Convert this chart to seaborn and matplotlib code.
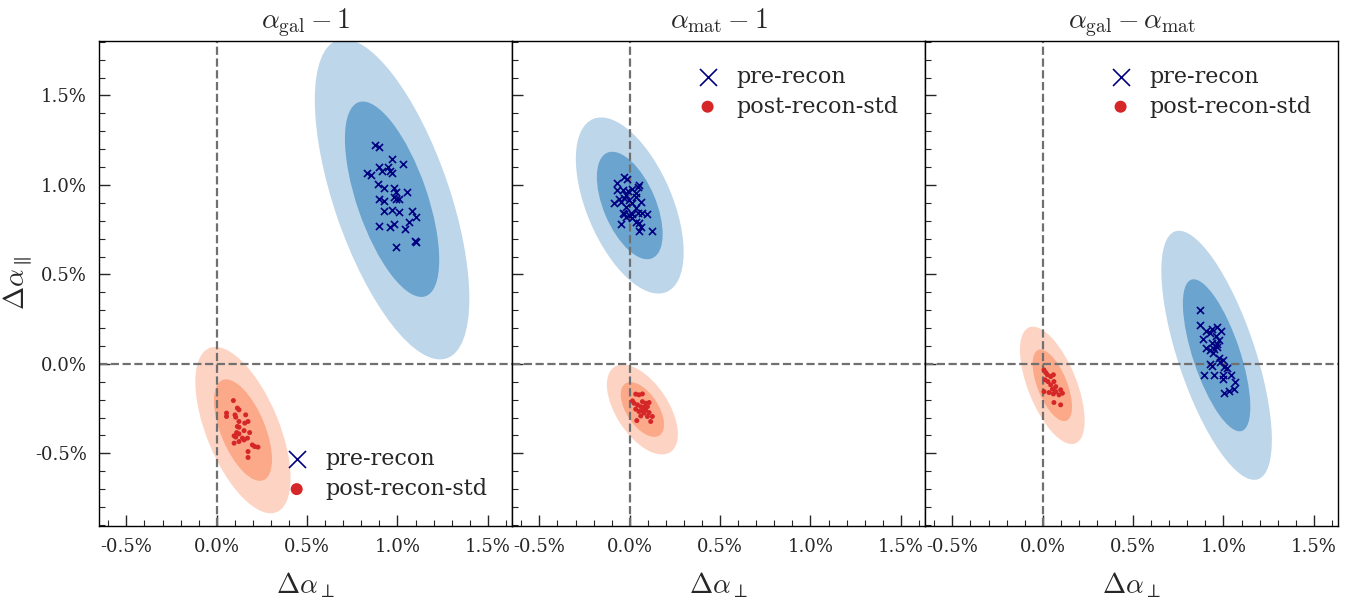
import matplotlib
matplotlib.use('Agg')
import matplotlib.pyplot as plt
import seaborn as sns
import numpy as np
import pandas as pd
from matplotlib.patches import Ellipse
from matplotlib.ticker import MultipleLocator, FormatStrFormatter

sns.set_style('ticks')
plt.rcParams['font.family'] = ['DejaVu Serif']
plt.rcParams['mathtext.fontset'] = 'cm'

titles = [r'$\alpha_{\rm gal}-1$', r'$\alpha_{\rm mat}-1$', r'$\alpha_{\rm gal}-\alpha_{\rm mat}$']

# pre-recon points (Delta alpha_perp, Delta alpha_par) in percent
pre_x_gal = [0.878, 0.895, 0.967, 0.950, 0.895, 0.917, 1.028, 0.961, 0.967, 0.834, 0.851, 0.890,
             0.923, 0.983, 1.055, 0.989, 0.895, 0.923, 0.994, 1.006, 0.983, 0.972, 0.923, 1.006,
             1.083, 1.105, 1.061, 0.895, 0.961, 0.983, 1.044, 1.099, 1.105, 0.994]
pre_y_gal = [1.223, 1.212, 1.145, 1.101, 1.101, 1.078, 1.117, 1.078, 1.067, 1.067, 1.056, 1.006,
             0.983, 0.983, 0.961, 0.961, 0.922, 0.911, 0.922, 0.922, 0.933, 0.860, 0.855, 0.849,
             0.855, 0.821, 0.793, 0.771, 0.765, 0.782, 0.754, 0.687, 0.682, 0.654]
pre_x_mat = [-0.068, -0.031, -0.017, -0.068, -0.040, -0.009, 0.015, 0.043, 0.051, -0.022, 0.033, -0.059,
             -0.031, -0.004, 0.033, -0.087, -0.050, 0.015, 0.061, -0.022, 0.033, -0.040, -0.031, -0.004,
             0.015, 0.043, 0.070, 0.094, -0.022, 0.015, 0.033, 0.051, -0.050, 0.061, 0.051, 0.122]
pre_y_mat = [1.013, 1.046, 1.032, 0.972, 0.972, 0.968, 0.976, 0.991, 1.000, 0.944, 0.954, 0.920,
             0.926, 0.916, 0.931, 0.898, 0.907, 0.901, 0.907, 0.879, 0.870, 0.845, 0.838, 0.832,
             0.838, 0.842, 0.845, 0.838, 0.823, 0.814, 0.795, 0.786, 0.780, 0.767, 0.743, 0.743]
pre_x_diff = [0.869, 0.869, 0.901, 0.938, 0.965, 0.987, 0.886, 0.924, 0.956, 0.974, 0.938, 0.965,
              0.906, 0.924, 0.946, 0.965, 0.943, 0.974, 0.998, 0.983, 0.928, 0.938, 1.002, 1.020,
              0.891, 0.946, 0.998, 1.039, 0.998, 1.066, 1.057, 1.029, 1.002]
pre_y_diff = [0.302, 0.218, 0.186, 0.194, 0.208, 0.186, 0.138, 0.172, 0.153, 0.134, 0.119, 0.112,
              0.088, 0.078, 0.082, 0.097, 0.060, 0.032, 0.022, 0.013, 0.000, -0.011, -0.015, -0.024,
              -0.061, -0.061, -0.061, -0.061, -0.085, -0.104, -0.141, -0.149, -0.160]

# post-recon-std points
post_x_gal = [0.092, 0.114, 0.123, 0.054, 0.054, 0.101, 0.105, 0.160, 0.123, 0.173, 0.155, 0.114,
              0.123, 0.151, 0.182, 0.110, 0.123, 0.096, 0.105, 0.142, 0.151, 0.170, 0.123, 0.096,
              0.197, 0.210, 0.228, 0.173, 0.173]
post_y_gal = [-0.205, -0.247, -0.257, -0.275, -0.294, -0.285, -0.298, -0.285, -0.322, -0.322, -0.331, -0.350,
              -0.354, -0.373, -0.384, -0.384, -0.391, -0.402, -0.409, -0.415, -0.425, -0.415, -0.434, -0.443,
              -0.453, -0.462, -0.465, -0.490, -0.523]
post_x_mat = [0.033, 0.051, 0.070, 0.015, 0.024, 0.070, 0.088, 0.107, 0.043, 0.061, 0.079, 0.098,
              0.033, 0.070, 0.088, 0.051, 0.079, 0.107, 0.061, 0.098, 0.125, 0.039, 0.116]
post_y_mat = [-0.169, -0.173, -0.168, -0.207, -0.220, -0.211, -0.220, -0.216, -0.229, -0.239, -0.242, -0.239,
              -0.253, -0.261, -0.257, -0.266, -0.275, -0.272, -0.291, -0.294, -0.294, -0.317, -0.322]
post_x_diff = [0.007, 0.017, 0.026, 0.044, 0.059, 0.013, 0.029, 0.062, 0.044, 0.072, 0.007, 0.035,
               0.054, 0.072, 0.099, 0.059, 0.090, 0.109, 0.062, 0.099]
post_y_diff = [-0.034, -0.049, -0.061, -0.071, -0.061, -0.089, -0.099, -0.099, -0.117, -0.127, -0.155, -0.160,
               -0.141, -0.155, -0.145, -0.168, -0.173, -0.164, -0.216, -0.229]

# Fisher forecast ellipses: centre x, centre y, sigma x, sigma y, correlation
ell_pre = [(0.97, 0.92, 0.172, 0.36, -0.62),
           (0.0, 0.885, 0.12, 0.198, -0.53),
           (0.962, 0.048, 0.123, 0.28, -0.68)]
ell_post = [(0.145, -0.37, 0.106, 0.187, -0.58),
            (0.07, -0.255, 0.079, 0.101, -0.55),
            (0.053, -0.12, 0.072, 0.132, -0.6)]

pre_pts = [(pre_x_gal, pre_y_gal), (pre_x_mat, pre_y_mat), (pre_x_diff, pre_y_diff)]
post_pts = [(post_x_gal, post_y_gal), (post_x_mat, post_y_mat), (post_x_diff, post_y_diff)]

blue_cols = ['#bdd6ea', '#6aa4cf']
red_cols = ['#fdd4c3', '#fca98a']
levels = [np.sqrt(6.18), np.sqrt(2.30)]


def add_ellipses(ax, pars, cols):
    cx, cy, sx, sy, rho = pars
    cov = np.array([[sx**2, rho*sx*sy], [rho*sx*sy, sy**2]])
    vals, vecs = np.linalg.eigh(cov)
    angle = np.degrees(np.arctan2(vecs[1, 1], vecs[0, 1]))
    for k, c in zip(levels, cols):
        e = Ellipse((cx, cy), 2*k*np.sqrt(vals[1]), 2*k*np.sqrt(vals[0]), angle=angle,
                    facecolor=c, edgecolor='none', zorder=1)
        ax.add_patch(e)


fig, axes = plt.subplots(1, 3, figsize=(13.6, 6.1), sharey=True)
fig.subplots_adjust(left=0.073, right=0.984, top=0.933, bottom=0.138, wspace=0)

for i, ax in enumerate(axes):
    add_ellipses(ax, ell_pre[i], blue_cols)
    add_ellipses(ax, ell_post[i], red_cols)
    ax.axvline(0, color='#707070', ls='--', lw=1.6, zorder=2)
    ax.axhline(0, color='#707070', ls='--', lw=1.6, zorder=2)
    df_pre = pd.DataFrame({'x': pre_pts[i][0], 'y': pre_pts[i][1]})
    df_post = pd.DataFrame({'x': post_pts[i][0], 'y': post_pts[i][1]})
    sns.scatterplot(data=df_pre, x='x', y='y', marker='x', color='navy', s=26,
                    linewidth=1.2, ax=ax, zorder=3, label='pre-recon')
    sns.scatterplot(data=df_post, x='x', y='y', marker='o', color='#d62728', s=13,
                    edgecolor='none', ax=ax, zorder=3, label='post-recon-std')

    ax.set_xlim(-0.65, 1.635)
    ax.set_ylim(-0.905, 1.805)
    ax.xaxis.set_major_locator(MultipleLocator(0.5))
    ax.xaxis.set_minor_locator(MultipleLocator(0.1))
    ax.yaxis.set_major_locator(MultipleLocator(0.5))
    ax.yaxis.set_minor_locator(MultipleLocator(0.1))
    ax.xaxis.set_major_formatter(FormatStrFormatter('%.1f%%'))
    ax.yaxis.set_major_formatter(FormatStrFormatter('%.1f%%'))
    ax.tick_params(which='major', direction='in', length=8, width=1, labelsize=13, pad=9)
    ax.tick_params(which='minor', direction='in', length=4, width=0.8)
    ax.set_title(titles[i], fontsize=20, pad=9)
    ax.set_xlabel(r'$\Delta\alpha_\perp$', fontsize=20, labelpad=10)
    ax.set_ylabel('')

    for sp in ax.spines.values():
        sp.set_linewidth(1.0)
        sp.set_color('black')

    if i == 0:
        ax.legend(loc='lower right', bbox_to_anchor=(0.962, 0.035), frameon=False, fontsize=16,
                  markerscale=2.4, handletextpad=0.3, labelspacing=0.35, borderaxespad=0)
    else:
        ax.legend(loc='upper right', bbox_to_anchor=(0.957, 0.967), frameon=False, fontsize=16,
                  markerscale=2.4, handletextpad=0.3, labelspacing=0.35, borderaxespad=0)

axes[0].set_ylabel(r'$\Delta\alpha_\parallel$', fontsize=20)
axes[0].yaxis.set_label_coords(-0.155, 0.5)

fig.savefig('out.png', dpi=100)
